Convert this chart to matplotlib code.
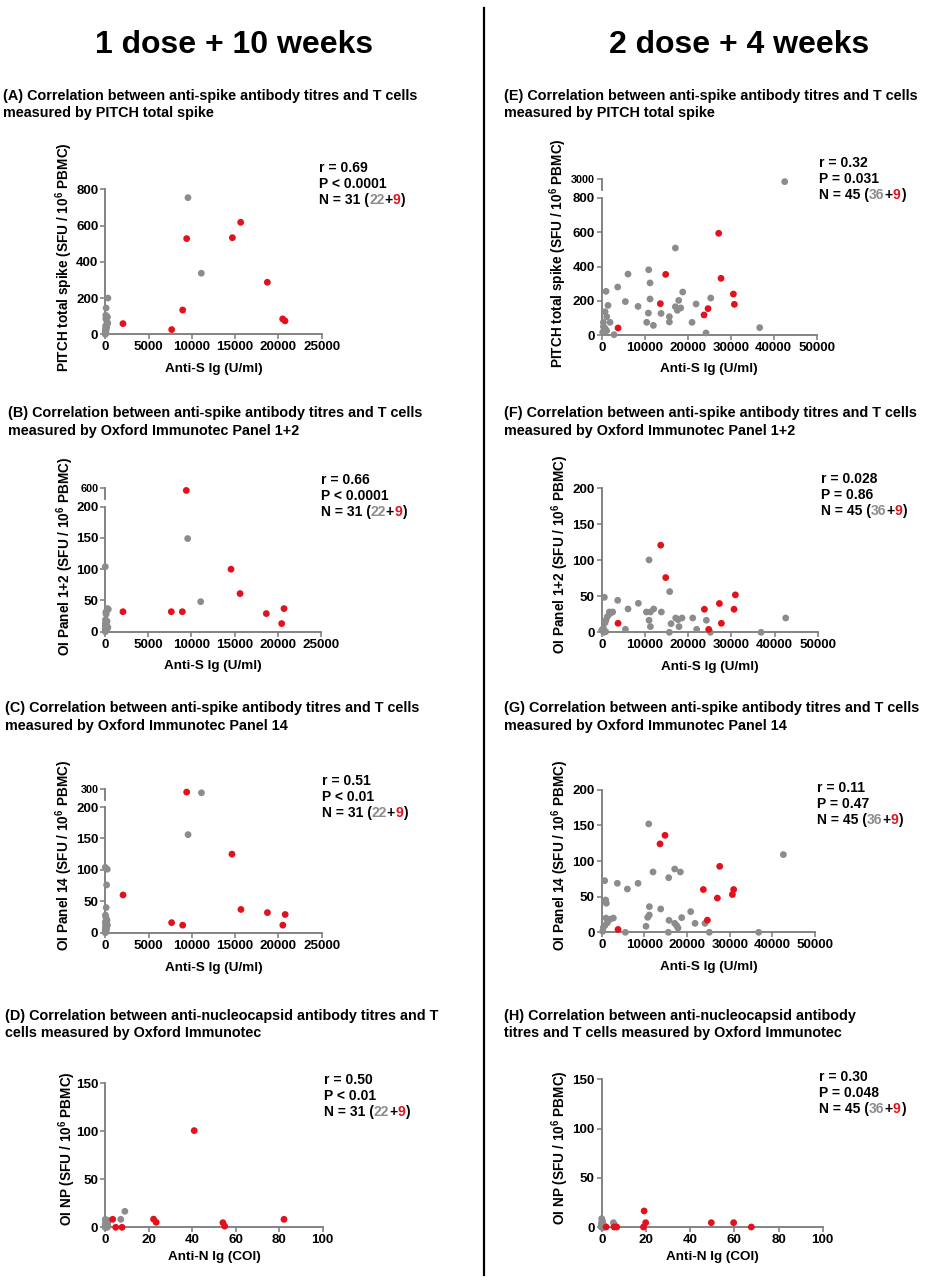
import numpy as np
import matplotlib
matplotlib.use('Agg')
import matplotlib.pyplot as plt
from matplotlib.lines import Line2D

plt.rcParams['font.family'] = ['Liberation Sans', 'DejaVu Sans']
plt.rcParams['font.weight'] = 'bold'
plt.rcParams['mathtext.fontset'] = 'custom'
plt.rcParams['mathtext.rm'] = 'Liberation Sans:bold'
plt.rcParams['mathtext.it'] = 'Liberation Sans:bold'
plt.rcParams['mathtext.bf'] = 'Liberation Sans:bold'

W, H = 929, 1280
RED  = '#e3111b'
GREY = '#8c8c8c'
AXC  = '#7a7a7a'

# ── 데이터 (1 dose + 10 weeks) ───────────────────────────────
a_red_x  = [2040, 7670, 8940, 9400, 14680, 15640, 18720, 20490, 20760]
a_red_y  = [59, 26, 134, 528, 533, 618, 287, 85, 74]
a_grey_x = [9550, 11090, 300, 90, 50, 130, 250, 60, 200, 280, 100, 40, 150, 30, 90, 10, 60, 20, 5, 40, 15, 0]
a_grey_y = [754, 337, 200, 145, 105, 100, 95, 85, 70, 60, 50, 45, 38, 30, 25, 20, 15, 12, 8, 5, 3, 0]

b_red_x  = [2050, 7660, 8940, 9400, 14590, 15640, 18690, 20470, 20740]
b_red_y  = [32, 32, 32, 560, 100, 61, 29, 13, 37]
b_grey_x = [9560, 11070, 0, 250, 350, 150, 60, 100, 20, 200, 80, 0, 130, 40, 10, 300, 60, 0, 180, 90, 30, 0]
b_grey_y = [149, 48, 104, 37, 36, 33, 31, 28, 19, 17, 15, 13, 11, 10, 9, 7, 5, 4, 3, 2, 1, 0]

c_red_x  = [2050, 7660, 8940, 9400, 14630, 15670, 18730, 20510, 20780]
c_red_y  = [60, 16, 12, 285, 125, 37, 32, 12, 29]
c_grey_x = [11110, 9560, 0, 230, 150, 100, 20, 60, 200, 0, 120, 40, 250, 80, 10, 160, 30, 0, 90, 0, 50, 0]
c_grey_y = [282, 156, 104, 101, 76, 40, 28, 25, 20, 17, 15, 13, 12, 10, 8, 7, 5, 4, 3, 2, 1, 0]

d_red_x  = [40.9, 3.4, 4.8, 7.7, 22.2, 23.4, 54.1, 54.9, 82.2]
d_red_y  = [100.5, 8.3, 0, 0, 8.5, 5.2, 4.8, 1.2, 8.3]
d_grey_x = [9.0, 7.1, 0, 0.2, 0.5, 0.8, 1.0, 0, 0.3, 1.2, 0.6, 0, 0.1, 0.4, 0.9, 1.5, 0, 0.2, 0.7, 0, 1.1, 0.3]
d_grey_y = [16.6, 8.3, 8.3, 6, 5, 4.2, 3, 2.4, 2, 1.4, 1, 0.5, 0, 0, 0, 7, 3.5, 1.8, 0.8, 0, 4.6, 2.6]

# ── 데이터 (2 dose + 4 weeks) ────────────────────────────────
e_red_x  = [3800, 13640, 14880, 23800, 24730, 27210, 27750, 30620, 30850]
e_red_y  = [41, 183, 354, 117, 154, 594, 331, 239, 179]
e_grey_x = [42560, 17130, 10930, 11240, 6120, 3720, 1010, 5500, 8450, 11240,
            10850, 10470, 12020, 13800, 15740, 15740, 17130, 17600, 18370, 17910,
            18840, 21940, 21010, 25350, 24260, 36740, 2870, 1470, 780, 1160,
            390, 1940, 780, 1160, 230, 390]
e_grey_y = [2780, 508, 381, 304, 356, 280, 255, 195, 167, 210,
            128, 74, 56, 126, 107, 76, 165, 144, 158, 202,
            251, 181, 74, 216, 12, 43, 2, 173, 136, 107,
            74, 74, 39, 25, 16, 49]

f_red_x  = [3780, 13660, 14820, 23770, 24770, 27240, 27700, 30630, 30940]
f_red_y  = [12.5, 121, 76, 32, 4, 40, 12.5, 32, 52]
f_grey_x = [10960, 15740, 620, 3700, 8490, 6100, 10340, 11270, 12040, 13810,
            10960, 11270, 5480, 15660, 16050, 17130, 17670, 18600, 17900, 21070,
            21990, 24230, 25150, 36880, 42590, 1780, 2550, 1310, 1000, 770,
            390, 930, 230, 540, 0, 1930]
f_grey_y = [100.5, 56.5, 48.6, 44.4, 40.3, 32.4, 28.2, 28.2, 32.4, 28.2,
            16.7, 7.9, 4.2, 0, 12, 19.9, 17.6, 19.9, 7.9, 19.9,
            4.2, 16.7, 0, 0, 19.9, 28.2, 28.2, 21.8, 17.1, 13.4,
            5.6, 0.9, 2.3, 0, 3, 26]

g_red_x  = [3830, 13670, 14840, 23830, 24770, 27110, 27660, 30630, 30940]
g_red_y  = [4, 124, 136, 60, 17, 48, 92.5, 53, 60]
g_grey_x = [11020, 42580, 12030, 17110, 18440, 15700, 700, 3670, 8520, 6020,
            940, 1090, 13830, 11170, 11170, 10780, 20860, 15780, 18750, 17110,
            17580, 17890, 21880, 10390, 5550, 15630, 25230, 36800, 24220, 1020,
            1950, 2730, 1330, 780, 230, 390]
g_grey_y = [152, 109, 84.6, 88.8, 84.6, 76.6, 72.4, 68.7, 68.7, 60.7,
            45.3, 40.7, 32.7, 36, 24.3, 21, 29, 16.8, 20.6, 12.6,
            9.3, 6, 12.6, 8.4, 0, 0, 0, 0, 12.6, 20,
            18.2, 20, 13.5, 9.8, 1.4, 7]

h_red_x  = [19.2, 2.0, 5.6, 6.8, 18.9, 19.9, 49.6, 59.7, 67.7]
h_red_y  = [16.3, 0, 0, 0, 0, 4.4, 4.4, 4.4, 0]
h_grey_x = [0, 0.3, 0, 0.5, 5.3, 5.7, 0.2, 0, 0.8, 0.4,
            1.0, 0, 0.1, 0.6, 0.3, 0, 1.2, 0.2, 0.5, 0,
            0.7, 0.1, 0, 0.4, 0.9, 0, 0.2, 0.6, 0, 0.3,
            1.5, 0, 0.1, 0.8, 0, 0.4]
h_grey_y = [8.5, 6.5, 4.7, 3.5, 4.4, 2.4, 2, 1.5, 1, 0.5,
            0, 0, 0, 0, 0, 0, 0.3, 0.8, 1.2, 2.8,
            0, 0, 0.2, 0.1, 0.6, 3.2, 5.2, 0, 0, 0.9,
            0.4, 1.8, 0, 0, 0.3, 0]

# ── 텍스트 ───────────────────────────────────────────────────
LINE1_S = "Correlation between anti-spike antibody titres and T cells"
titles = {
    'A': [f"(A) {LINE1_S}", "measured by PITCH total spike"],
    'B': [f"(B) {LINE1_S}", "measured by Oxford Immunotec Panel 1+2"],
    'C': [f"(C) {LINE1_S}", "measured by Oxford Immunotec Panel 14"],
    'D': ["(D) Correlation between anti-nucleocapsid antibody titres and T",
          "cells measured by Oxford Immunotec"],
    'E': [f"(E) {LINE1_S}", "measured by PITCH total spike"],
    'F': [f"(F) {LINE1_S}", "measured by Oxford Immunotec Panel 1+2"],
    'G': [f"(G) {LINE1_S}", "measured by Oxford Immunotec Panel 14"],
    'H': ["(H) Correlation between anti-nucleocapsid antibody",
          "titres and T cells measured by Oxford Immunotec"],
}
UNIT = r" (SFU / 10$^{6}$ PBMC)"
ylabels = {'A': "PITCH total spike" + UNIT, 'B': "OI Panel 1+2" + UNIT,
           'C': "OI Panel 14" + UNIT, 'D': "OI NP" + UNIT}
ylabels.update({'E': ylabels['A'], 'F': ylabels['B'], 'G': ylabels['C'], 'H': ylabels['D']})
xlabels = {k: "Anti-S Ig (U/ml)" for k in "ABCEFG"}
xlabels.update({'D': "Anti-N Ig (COI)", 'H': "Anti-N Ig (COI)"})
r_text = {'A': "r = 0.69", 'B': "r = 0.66", 'C': "r = 0.51", 'D': "r = 0.50",
          'E': "r = 0.32", 'F': "r = 0.028", 'G': "r = 0.11", 'H': "r = 0.30"}
p_text = {'A': "P < 0.0001", 'B': "P < 0.0001", 'C': "P < 0.01", 'D': "P < 0.01",
          'E': "P = 0.031", 'F': "P = 0.86", 'G': "P = 0.47", 'H': "P = 0.048"}
n_parts = {k: ("31", "22", "9") for k in "ABCD"}
n_parts.update({k: ("45", "36", "9") for k in "EFGH"})

data = {
    'A': (a_grey_x, a_grey_y, a_red_x, a_red_y), 'B': (b_grey_x, b_grey_y, b_red_x, b_red_y),
    'C': (c_grey_x, c_grey_y, c_red_x, c_red_y), 'D': (d_grey_x, d_grey_y, d_red_x, d_red_y),
    'E': (e_grey_x, e_grey_y, e_red_x, e_red_y), 'F': (f_grey_x, f_grey_y, f_red_x, f_red_y),
    'G': (g_grey_x, g_grey_y, g_red_x, g_red_y), 'H': (h_grey_x, h_grey_y, h_red_x, h_red_y),
}

# ── 레이아웃 (픽셀) ──────────────────────────────────────────
# x0, x1, y0, ytop, xmax, xstep, ymax, ystep, break(top_px, bot_px, lo, hi)
layout = {
    'A': (105.3, 321.7, 334.3, 189.3, 25000, 5000, 800, 200, None),
    'B': (105.3, 320.7, 631.7, 506.7, 25000, 5000, 200, 50, (488.3, 499.0, 400, 600)),
    'C': (105.3, 321.7, 932.7, 807.0, 25000, 5000, 200, 50, (788.7, 800.0, 250, 300)),
    'D': (105.3, 322.7, 1227.3, 1083.0, 100, 20, 150, 50, None),
    'E': (601.7, 816.7, 335.0, 198.0, 50000, 10000, 800, 200, (179.3, 190.0, 2000, 3000)),
    'F': (601.7, 817.7, 632.3, 488.3, 50000, 10000, 200, 50, None),
    'G': (601.7, 815.0, 932.3, 789.7, 50000, 10000, 200, 50, None),
    'H': (601.7, 822.7, 1227.0, 1079.3, 100, 20, 150, 50, None),
}
title_pos = {'A': (3.3, 96.0), 'B': (8.3, 413.3), 'C': (5.0, 708.3), 'D': (5.0, 1016.0),
             'E': (504.3, 96.0), 'F': (504.3, 413.3), 'G': (504.3, 708.3), 'H': (504.3, 1016.0)}
stat_pos = {'A': (319.3, 167.7), 'B': (320.7, 480.0), 'C': (321.7, 780.7), 'D': (324.0, 1080.0),
            'E': (819.3, 163.3), 'F': (821.0, 479.3), 'G': (816.7, 787.7), 'H': (819.3, 1076.7)}
ylab_pos = {'A': (64, 256.7), 'B': (65, 556.0), 'C': (64, 855.8), 'D': (67, 1149.0),
            'E': (558.3, 253.3), 'F': (560, 554.0), 'G': (560, 855.0), 'H': (560, 1147.5)}
xlab_y = {'A': 369.0, 'B': 666.0, 'C': 967.7, 'D': 1256.7,
          'E': 369.3, 'F': 667.3, 'G': 966.7, 'H': 1256.7}

fig = plt.figure(figsize=(W / 100, H / 100), dpi=100)
renderer = fig.canvas.get_renderer()

def fx(px):
    return px / W

def fy(py):
    return 1 - py / H

def base_style(ax):
    for s in ('top', 'right'):
        ax.spines[s].set_visible(False)
    for s in ('left', 'bottom'):
        ax.spines[s].set_color(AXC)
        ax.spines[s].set_linewidth(1.3)
    ax.tick_params(direction='out', length=3.5, width=1.1, color=AXC,
                   labelsize=9.6, pad=1.5, labelcolor='black')

def dots(ax, x, y, color, z):
    if len(x):
        ax.scatter(x, y, s=24, c=color, edgecolors='none', clip_on=False, zorder=z)

for key, (x0, x1, y0, yt, xmax, xstep, ymax, ystep, brk) in layout.items():
    gx, gy, rx, ry = [np.array(v, dtype=float) for v in data[key]]

    ax = fig.add_axes([fx(x0), fy(y0), (x1 - x0) / W, (y0 - yt) / H])
    base_style(ax)
    ax.set_xlim(0, xmax)
    ax.set_ylim(0, ymax)
    ax.set_xticks(np.arange(0, xmax + 1, xstep))
    ax.set_yticks(np.arange(0, ymax + 1, ystep))
    gm, rm = gy <= ymax, ry <= ymax
    dots(ax, gx[gm], gy[gm], GREY, 3)
    dots(ax, rx[rm], ry[rm], RED, 4)

    if brk is not None:
        bt, bb, lo, hi = brk
        ax2 = fig.add_axes([fx(x0), fy(bb), (x1 - x0) / W, (bb - bt) / H])
        base_style(ax2)
        ax2.spines['bottom'].set_visible(False)
        ax2.patch.set_visible(False)
        ax2.set_xlim(0, xmax)
        ax2.set_ylim(lo, hi)
        ax2.set_xticks([])
        ax2.set_yticks([hi])
        ax2.tick_params(axis='y', labelsize=7.8)
        dots(ax2, gx[~gm], gy[~gm], GREY, 3)
        dots(ax2, rx[~rm], ry[~rm], RED, 4)

    # 패널 제목
    tx, ty = title_pos[key]
    for i, line in enumerate(titles[key]):
        fig.text(fx(tx), fy(ty + i * 17.4), line, ha='left', va='center', fontsize=10.4)

    # 축 레이블
    lx, ly = ylab_pos[key]
    fig.text(fx(lx), fy(ly), ylabels[key], rotation=90, ha='center', va='center', fontsize=9.8)
    fig.text(fx((x0 + x1) / 2), fy(xlab_y[key]), xlabels[key], ha='center', va='center', fontsize=9.7)

    # 통계 텍스트
    sx, sy = stat_pos[key]
    fig.text(fx(sx), fy(sy), r_text[key], ha='left', va='center', fontsize=10)
    fig.text(fx(sx), fy(sy + 16), p_text[key], ha='left', va='center', fontsize=10)
    ntot, ng, nr = n_parts[key]
    cur = sx
    for s, c in [(f"N = {ntot} (", 'black'), (ng, GREY), ("+", 'black'), (nr, RED), (")", 'black')]:
        t = fig.text(fx(cur), fy(sy + 32), s, color=c, ha='left', va='center', fontsize=10)
        cur += t.get_window_extent(renderer).width

# ── 헤더 & 구분선 ────────────────────────────────────────────
HEAD_FONT = ['Liberation Sans Narrow', 'Liberation Sans', 'DejaVu Sans']
fig.text(fx(234), fy(45), "1 dose + 10 weeks", ha='center', va='center',
         fontsize=23, family=HEAD_FONT, weight='bold')
fig.text(fx(739), fy(45), "2 dose + 4 weeks", ha='center', va='center',
         fontsize=23, family=HEAD_FONT, weight='bold')
fig.add_artist(Line2D([fx(484.5), fx(484.5)], [fy(8), fy(1275)],
                      color='black', lw=1.6, transform=fig.transFigure))

fig.savefig("out.png", dpi=100)
